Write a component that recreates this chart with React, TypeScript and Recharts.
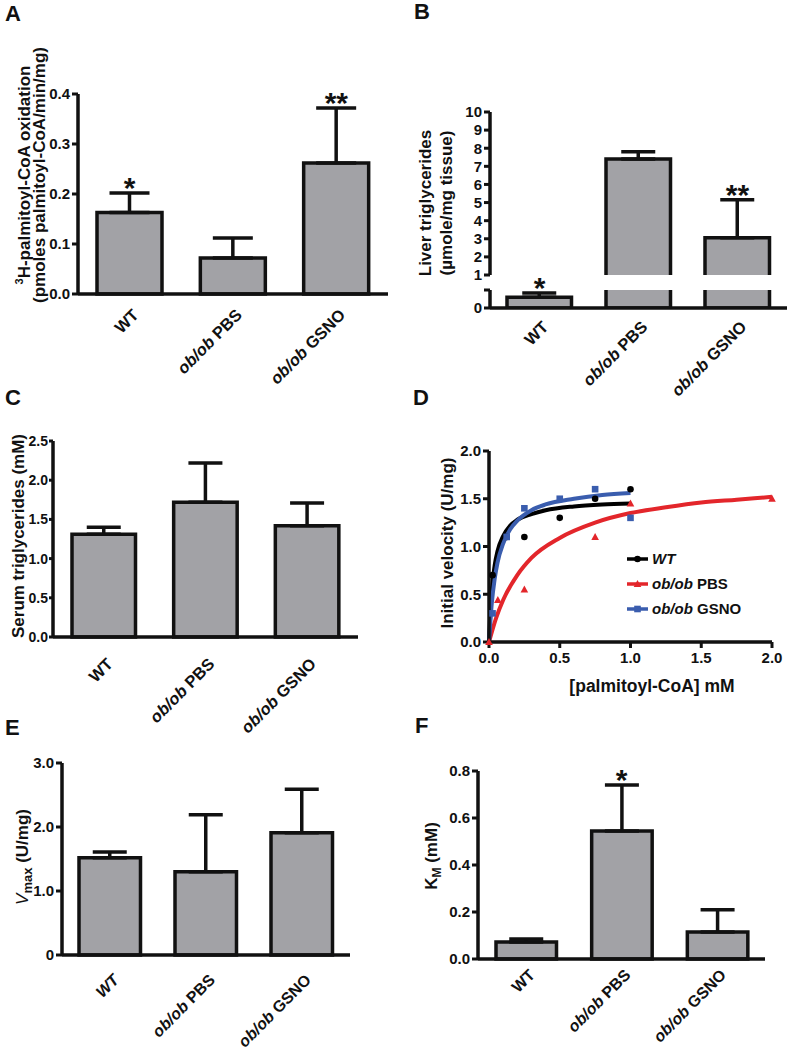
import React from "react";
import {
  ComposedChart,
  Bar,
  Line,
  Scatter,
  XAxis,
  YAxis,
  ErrorBar,
  LabelList,
  Legend,
} from "recharts";

const FONT = '"Liberation Sans", Arial, Helvetica, sans-serif';
const INK = "#111";
const BAR_FILL = "#A2A2A6";
const RED = "#E3262B";
const BLUE = "#3A5DAE";

const groups = ["WT", "ob/ob PBS", "ob/ob GSNO"];

// A: 3H-palmitoyl-CoA oxidation
const oxidationMean = [0.163, 0.072, 0.262];
const oxidationSem = [0.039, 0.04, 0.11];
const oxidationSig = ["*", "", "**"];

// B: liver triglycerides (broken axis)
const liverTgMean = [0.3, 7.4, 3.05];
const liverTgSem = [0.12, 0.4, 2.1];
const liverTgSig = ["*", "", "**"];

// C: serum triglycerides
const serumTgMean = [1.31, 1.72, 1.42];
const serumTgSem = [0.09, 0.5, 0.29];

// E: Vmax
const vmaxMean = [1.52, 1.3, 1.91];
const vmaxSem = [0.09, 0.89, 0.68];

// F: Km
const kmMean = [0.072, 0.545, 0.115];
const kmSem = [0.013, 0.195, 0.095];
const kmSig = ["", "*", ""];

// D: kinetics, measured points
const wtConc = [0.025, 0.125, 0.25, 0.5, 0.75, 1.0];
const wtVel = [0.7, 1.1, 1.1, 1.3, 1.5, 1.6];
const pbsConc = [0, 0.0625, 0.25, 0.75, 1.0, 2.0];
const pbsVel = [0, 0.44, 0.55, 1.1, 1.45, 1.5];
const gsnoConc = [0.025, 0.125, 0.25, 0.5, 0.75, 1.0];
const gsnoVel = [0.3, 1.1, 1.4, 1.5, 1.6, 1.3];

// D: fitted curves
const wtFitX = [0, 0.01, 0.02, 0.04, 0.06, 0.1, 0.15, 0.2, 0.3, 0.4, 0.6, 0.8, 1.0];
const wtFitY = [0, 0.33, 0.55, 0.8, 0.95, 1.11, 1.22, 1.28, 1.34, 1.38, 1.42, 1.44, 1.45];
const gsnoFitX = [0, 0.02, 0.04, 0.06, 0.1, 0.15, 0.2, 0.3, 0.4, 0.6, 0.8, 1.0];
const gsnoFitY = [0, 0.41, 0.66, 0.83, 1.03, 1.18, 1.27, 1.38, 1.44, 1.5, 1.54, 1.56];
const pbsFitX = [0, 0.05, 0.1, 0.2, 0.3, 0.5, 0.75, 1.0, 1.25, 1.5, 1.75, 2.0];
const pbsFitY = [0, 0.25, 0.44, 0.7, 0.88, 1.09, 1.25, 1.35, 1.41, 1.46, 1.49, 1.52];

const pairs = (xs: number[], ys: number[]) => xs.map((x, i) => ({ x, y: ys[i] }));

type Row = {
  name: string;
  mean: number | null;
  err: number[] | null;
  top: number | null;
  sig: string;
};

const buildRows = (mean: number[], sem: number[], sig?: string[], keep = (_v: number) => true): Row[] =>
  groups.map((name, i) => {
    const ok = keep(mean[i]);
    return {
      name,
      mean: ok ? mean[i] : null,
      err: ok ? [0, sem[i]] : null,
      top: ok && sig && sig[i] ? mean[i] + sem[i] : null,
      sig: ok && sig ? sig[i] : "",
    };
  });

const fixed1 = (v: number) => v.toFixed(1);

function barShape(plotTop: number, openBottom: boolean) {
  return (props: any) => {
    const { x, y, width, height } = props;
    if (x == null || y == null || !width || !height) return <g />;
    let top = Math.min(y, y + height);
    const bottom = Math.max(y, y + height);
    const openTop = top < plotTop - 0.5;
    if (openTop) top = plotTop;
    const r = x + width;
    let d = `M${x},${bottom}V${top}H${r}V${bottom}Z`;
    if (openTop) d = `M${x},${top}V${bottom}H${r}V${top}`;
    else if (openBottom) d = `M${x},${bottom}V${top}H${r}V${bottom}`;
    return (
      <g>
        <rect x={x} y={top} width={width} height={bottom - top} fill={BAR_FILL} />
        <path d={d} fill="none" stroke={INK} strokeWidth={3.5} />
      </g>
    );
  };
}

function CategoryTick(props: any) {
  const { x, y, payload, dy, italicWT, size } = props;
  const name: string = payload.value;
  const parts: [string, boolean][] = name.startsWith("ob/ob")
    ? [["ob/ob", true], [name.slice(5), false]]
    : [[name, !!italicWT]];
  return (
    <g transform={`translate(${x + 10},${y + dy})`}>
      <text
        textAnchor="end"
        transform="rotate(-45)"
        fontSize={size}
        fontWeight={700}
        fontFamily={FONT}
        fill={INK}
      >
        {parts.map(([t, it], i) => (
          <tspan key={i} fontStyle={it ? "italic" : "normal"}>
            {t}
          </tspan>
        ))}
      </text>
    </g>
  );
}

type PanelProps = {
  rows: Row[];
  left: number;
  top: number;
  x0: number;
  x1: number;
  yTop: number;
  yBottom: number;
  xAxisHeight: number;
  rightPad?: number;
  domain: [number, number];
  ticks: number[];
  fmt: (v: number) => string;
  barSize: number;
  capHalf: number;
  labelDy: number;
  labelSize?: number;
  italicWT?: boolean;
  noCategories?: boolean;
  openBottom?: boolean;
  overflow?: boolean;
  tickFontSize?: number;
  tickLen?: number;
  tickGap?: number;
};

function BarPanel(p: PanelProps) {
  const yAxisW = p.x0 - p.left;
  const mt = p.yTop - p.top;
  const mr = p.rightPad ?? 5;
  const width = p.x1 - p.left + mr;
  const height = p.yBottom - p.top + p.xAxisHeight;
  const hasSig = p.rows.some((r) => r.top != null);
  return (
    <div style={{ position: "absolute", left: p.left, top: p.top }}>
      <ComposedChart
        width={width}
        height={height}
        data={p.rows}
        margin={{ top: mt, right: mr, bottom: 0, left: 0 }}
      >
        <XAxis
          dataKey="name"
          type="category"
          height={p.xAxisHeight}
          interval={0}
          axisLine={p.noCategories ? false : { stroke: INK, strokeWidth: 3.5 }}
          tickLine={false}
          tickSize={0}
          tickMargin={0}
          tick={
            p.noCategories
              ? false
              : (t: any) => (
                  <CategoryTick
                    {...t}
                    dy={p.labelDy}
                    size={p.labelSize ?? 16.5}
                    italicWT={p.italicWT}
                  />
                )
          }
        />
        <YAxis
          type="number"
          domain={p.domain}
          ticks={p.ticks}
          allowDataOverflow={!!p.overflow}
          width={yAxisW}
          interval={0}
          tickFormatter={p.fmt}
          axisLine={{ stroke: INK, strokeWidth: 3.5 }}
          tickLine={{ stroke: INK, strokeWidth: 3 }}
          tickSize={p.tickLen ?? 6}
          tickMargin={p.tickGap ?? 2}
          tick={{ fill: INK, fontSize: p.tickFontSize ?? 15, fontWeight: 700, fontFamily: FONT }}
        />
        <Bar
          dataKey="mean"
          barSize={p.barSize}
          isAnimationActive={false}
          shape={barShape(mt, !!p.openBottom)}
        >
          <ErrorBar dataKey="err" direction="y" width={p.capHalf} stroke={INK} strokeWidth={3.5} />
        </Bar>
        {hasSig && (
          <Line
            dataKey="top"
            stroke="none"
            dot={false}
            activeDot={false}
            legendType="none"
            isAnimationActive={false}
          >
            <LabelList
              dataKey="sig"
              position="top"
              offset={-5}
              fill={INK}
              fontSize={30}
              fontWeight={700}
              fontFamily={FONT}
            />
          </Line>
        )}
      </ComposedChart>
    </div>
  );
}

function Marker({ shape, cx, cy, color }: { shape: string; cx: number; cy: number; color: string }) {
  if (shape === "circle") return <circle cx={cx} cy={cy} r={3.3} fill={color} />;
  if (shape === "square") return <rect x={cx - 3.3} y={cy - 3.3} width={6.6} height={6.6} fill={color} />;
  return <path d={`M${cx},${cy - 4}L${cx + 3.8},${cy + 3}L${cx - 3.8},${cy + 3}Z`} fill={color} />;
}

const legendItems: { parts: [string, boolean][]; color: string; shape: string }[] = [
  { parts: [["WT", true]], color: "#000", shape: "circle" },
  { parts: [["ob/ob", true], [" PBS", false]], color: RED, shape: "triangle" },
  { parts: [["ob/ob", true], [" GSNO", false]], color: BLUE, shape: "square" },
];

function KineticsLegend() {
  return (
    <div style={{ fontFamily: FONT, fontWeight: 700, fontSize: 15, color: INK }}>
      {legendItems.map((it, i) => (
        <div key={i} style={{ display: "flex", alignItems: "center", height: 25, whiteSpace: "pre" }}>
          <svg width={25} height={12} style={{ display: "block" }}>
            <line x1={0} y1={6} x2={21} y2={6} stroke={it.color} strokeWidth={3.5} />
            <Marker shape={it.shape} cx={10.5} cy={6} color={it.color} />
          </svg>
          <span>
            {it.parts.map(([t, ital], j) => (
              <span key={j} style={{ fontStyle: ital ? "italic" : "normal" }}>
                {t}
              </span>
            ))}
          </span>
        </div>
      ))}
    </div>
  );
}

function KineticsPanel() {
  const left = 395;
  const top = 430;
  const axisTick = { fill: INK, fontSize: 15, fontWeight: 700, fontFamily: FONT };
  const dTicks = [0, 0.5, 1, 1.5, 2];
  const pointShape = (shape: string, color: string) => (props: any) =>
    <Marker shape={shape} cx={props.cx} cy={props.cy} color={color} />;
  return (
    <div style={{ position: "absolute", left, top }}>
      <ComposedChart width={787 - left} height={700 - top} margin={{ top: 21, right: 15, bottom: 0, left: 0 }}>
        <XAxis
          type="number"
          dataKey="x"
          domain={[0, 2]}
          ticks={dTicks}
          interval={0}
          tickFormatter={fixed1}
          height={58}
          axisLine={{ stroke: INK, strokeWidth: 3.5 }}
          tickLine={{ stroke: INK, strokeWidth: 3 }}
          tickSize={6}
          tickMargin={4}
          tick={axisTick}
        />
        <YAxis
          type="number"
          domain={[0, 2]}
          ticks={dTicks}
          interval={0}
          tickFormatter={fixed1}
          width={94}
          axisLine={{ stroke: INK, strokeWidth: 3.5 }}
          tickLine={{ stroke: INK, strokeWidth: 3 }}
          tickSize={6}
          tickMargin={2}
          tick={axisTick}
        />
        <Line data={pairs(pbsFitX, pbsFitY)} dataKey="y" type="monotone" stroke={RED} strokeWidth={4} dot={false} activeDot={false} isAnimationActive={false} />
        <Line data={pairs(wtFitX, wtFitY)} dataKey="y" type="monotone" stroke="#000" strokeWidth={4} dot={false} activeDot={false} isAnimationActive={false} />
        <Line data={pairs(gsnoFitX, gsnoFitY)} dataKey="y" type="monotone" stroke={BLUE} strokeWidth={4} dot={false} activeDot={false} isAnimationActive={false} />
        <Scatter data={pairs(pbsConc, pbsVel)} dataKey="y" shape={pointShape("triangle", RED)} isAnimationActive={false} />
        <Scatter data={pairs(wtConc, wtVel)} dataKey="y" shape={pointShape("circle", "#000")} isAnimationActive={false} />
        <Scatter data={pairs(gsnoConc, gsnoVel)} dataKey="y" shape={pointShape("square", BLUE)} isAnimationActive={false} />
        <Legend
          layout="horizontal"
          verticalAlign="middle"
          align="center"
          content={() => <KineticsLegend />}
          wrapperStyle={{ left: 627 - left, top: 546 - top, width: "auto" }}
        />
      </ComposedChart>
    </div>
  );
}

function Overlay() {
  const base = { fontFamily: FONT, fontWeight: 700, fill: INK } as const;
  const letter = { ...base, fontSize: 22 };
  const ylab = { ...base, fontSize: 17, textAnchor: "middle" as const };
  return (
    <svg
      width={787}
      height={1049}
      style={{ position: "absolute", left: 0, top: 0, pointerEvents: "none" }}
    >
      <text x={5} y={21} {...letter}>A</text>
      <text x={414} y={19} {...letter}>B</text>
      <text x={5} y={405} {...letter}>C</text>
      <text x={413} y={405} {...letter}>D</text>
      <text x={5} y={735} {...letter}>E</text>
      <text x={415} y={733} {...letter}>F</text>

      <text transform="translate(30,175) rotate(-90)" {...ylab}>
        <tspan fontSize={11} dy={-7}>3</tspan>
        <tspan dy={7}>H-palmitoyl-CoA oxidation</tspan>
      </text>
      <text transform="translate(45,175) rotate(-90)" {...ylab}>(pmoles palmitoyl-CoA/min/mg)</text>

      <text transform="translate(431,203) rotate(-90)" {...ylab}>Liver triglycerides</text>
      <text transform="translate(452,203) rotate(-90)" {...ylab}>(µmole/mg tissue)</text>

      <text transform="translate(24,536) rotate(-90)" {...ylab}>Serum triglycerides (mM)</text>

      <text transform="translate(453,543) rotate(-90)" {...ylab}>Initial velocity (U/mg)</text>
      <text x={652} y={692} {...ylab} fontSize={17.5}>[palmitoyl-CoA] mM</text>

      <text transform="translate(28,857) rotate(-90)" {...ylab}>
        <tspan fontStyle="italic" fontWeight={400}>V</tspan>
        <tspan fontSize={13} dy={4}>max</tspan>
        <tspan dy={-4}> (U/mg)</tspan>
      </text>

      <text transform="translate(437,856) rotate(-90)" {...ylab}>
        <tspan>K</tspan>
        <tspan fontSize={12} dy={4}>M</tspan>
        <tspan dy={-4}> (mM)</tspan>
      </text>
    </svg>
  );
}

export default function App() {
  const liverUpper = buildRows(liverTgMean, liverTgSem, liverTgSig, (v) => v >= 1);
  const liverLower = groups.map((name, i) => ({
    name,
    mean: liverTgMean[i],
    err: liverTgMean[i] < 1 ? [0, liverTgSem[i]] : null,
    top: liverTgMean[i] < 1 && liverTgSig[i] ? liverTgMean[i] + liverTgSem[i] : null,
    sig: liverTgMean[i] < 1 ? liverTgSig[i] : "",
  }));

  return (
    <div
      style={{
        position: "absolute",
        left: 0,
        top: 0,
        width: 787,
        height: 1049,
        background: "#fff",
        overflow: "hidden",
        fontFamily: FONT,
      }}
    >
      <BarPanel
        rows={buildRows(oxidationMean, oxidationSem, oxidationSig)}
        left={0} top={66} x0={78} x1={388} yTop={94} yBottom={294}
        xAxisHeight={100} domain={[0, 0.4]} ticks={[0, 0.1, 0.2, 0.3, 0.4]} fmt={fixed1}
        barSize={65} capHalf={20} labelDy={22}
      />

      <BarPanel
        rows={liverUpper}
        left={395} top={88} x0={490} x1={787} yTop={112} yBottom={275}
        xAxisHeight={10} rightPad={0} noCategories openBottom overflow
        domain={[1, 10]} ticks={[1, 2, 3, 4, 5, 6, 7, 8, 9, 10]} fmt={(v) => String(v)}
        barSize={64.5} capHalf={17} labelDy={20}
      />
      <BarPanel
        rows={liverLower}
        left={395} top={268} x0={490} x1={787} yTop={290} yBottom={308}
        xAxisHeight={92} rightPad={0} overflow
        domain={[0, 0.5]} ticks={[0, 0.5]} fmt={(v) => (v === 0 ? "0" : "")}
        barSize={64.5} capHalf={17} labelDy={20}
      />

      <BarPanel
        rows={buildRows(serumTgMean, serumTgSem)}
        left={0} top={420} x0={53} x1={358} yTop={441} yBottom={637}
        xAxisHeight={100} domain={[0, 2.5]} ticks={[0, 0.5, 1, 1.5, 2, 2.5]} fmt={fixed1}
        barSize={63.5} capHalf={17} labelDy={28}
        tickFontSize={14} tickLen={4} tickGap={1}
      />

      <KineticsPanel />

      <BarPanel
        rows={buildRows(vmaxMean, vmaxSem)}
        left={0} top={740} x0={62} x1={350} yTop={763} yBottom={955}
        xAxisHeight={94} domain={[0, 3]} ticks={[0, 1, 2, 3]}
        fmt={(v) => (v === 0 ? "0" : v.toFixed(1))}
        barSize={61.5} capHalf={17} labelDy={26} labelSize={16} italicWT
      />

      <BarPanel
        rows={buildRows(kmMean, kmSem, kmSig)}
        left={395} top={745} x0={478} x1={765} yTop={771} yBottom={959}
        xAxisHeight={90} domain={[0, 0.8]} ticks={[0, 0.2, 0.4, 0.6, 0.8]} fmt={fixed1}
        barSize={60.5} capHalf={17} labelDy={17} labelSize={16}
      />

      <Overlay />
    </div>
  );
}
